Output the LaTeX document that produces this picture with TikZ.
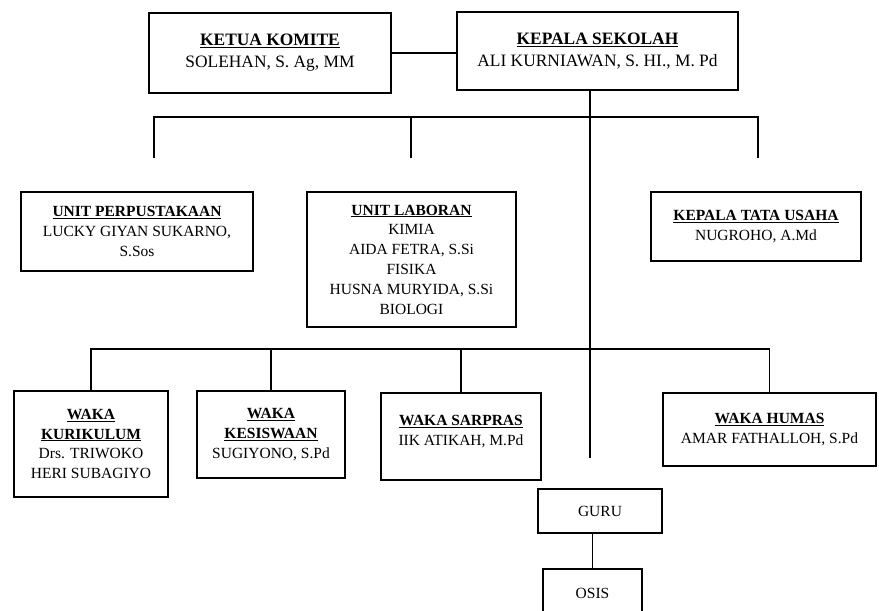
\documentclass[tikz,border=0pt]{standalone}
\usepackage{fontspec}
\setmainfont{Liberation Serif}
\usetikzlibrary{positioning}

\newcommand{\jabatan}[1]{\underline{\textbf{#1}}}

\begin{document}
\begin{tikzpicture}[
    x=1pt, y=-1pt,
    box/.style={rectangle, draw, line width=1.6pt, align=center, inner sep=0pt, font=\fontsize{15.5}{19.8}\selectfont},
    bigbox/.style={box, font=\fontsize{17.4}{22}\selectfont},
    line/.style={line width=1.4pt}
]
\useasboundingbox (0,0) rectangle (879,611);
\clip (0,0) rectangle (879,611);

% Pimpinan
\node[bigbox, minimum width=242pt, minimum height=80pt] (komite) at (270,53) {\jabatan{KETUA KOMITE}\\SOLEHAN, S. Ag, MM};
\node[bigbox, minimum width=281pt, minimum height=78pt] (kepsek) at (597.5,51) {\jabatan{KEPALA SEKOLAH}\\ALI KURNIAWAN, S. HI., M. Pd};

% Unit
\node[box, minimum width=232pt, minimum height=79pt] (perpus) at (137,231.5) {\jabatan{UNIT PERPUSTAKAAN}\\LUCKY GIYAN SUKARNO,\\S.Sos};
\node[box, minimum width=209pt, minimum height=135pt] (laboran) at (411.5,259.5) {\jabatan{UNIT LABORAN}\\KIMIA\\AIDA FETRA, S.Si\\FISIKA\\HUSNA MURYIDA, S.Si\\BIOLOGI};
\node[box, minimum width=210pt, minimum height=69pt] (tu) at (756,226.5) {\jabatan{KEPALA TATA USAHA}\\NUGROHO, A.Md};

% Wakil kepala
\node[box, minimum width=154pt, minimum height=106pt] (kurikulum) at (91,444) {\jabatan{WAKA}\\\jabatan{KURIKULUM}\\Drs. TRIWOKO\\HERI SUBAGIYO};
\node[box, minimum width=148pt, minimum height=87pt] (kesiswaan) at (271,434.5) {\jabatan{WAKA}\\\jabatan{KESISWAAN}\\SUGIYONO, S.Pd};
\node[box, minimum width=160pt, minimum height=87pt, text depth=13pt] (sarpras) at (461,436.5) {\jabatan{WAKA SARPRAS}\\IIK ATIKAH, M.Pd};
\node[box, minimum width=213pt, minimum height=73pt] (humas) at (769.5,429.5) {\jabatan{WAKA HUMAS}\\AMAR FATHALLOH, S.Pd};

% Guru dan OSIS
\node[box, minimum width=124pt, minimum height=44pt] (guru) at (600,511) {GURU};
\node[box, minimum width=99pt, minimum height=48pt] (osis) at (592.5,593) {OSIS};

% Titik bantu
\coordinate (trunk) at (590,458);
\coordinate (bus1) at (590,117);
\coordinate (bus2) at (590,349);
\coordinate (up1) at (154,158);
\coordinate (up2) at (411,158);
\coordinate (up3) at (758,158);

% Garis
\draw[line] (komite.east) -- (komite.east -| kepsek.west);
\draw[line] (kepsek.south -| trunk) -- (trunk);
\draw[line] (up1) |- (up3 |- bus1) -- (up3);
\draw[line] (up2) -- (up2 |- bus1);
\draw[line] (kurikulum.north) |- (humas.north |- bus2) -- (humas.north);
\draw[line] (kesiswaan.north) -- (kesiswaan.north |- bus2);
\draw[line] (sarpras.north) -- (sarpras.north |- bus2);
\draw[line] (osis.north) -- (osis.north |- guru.south);

\end{tikzpicture}
\end{document}
